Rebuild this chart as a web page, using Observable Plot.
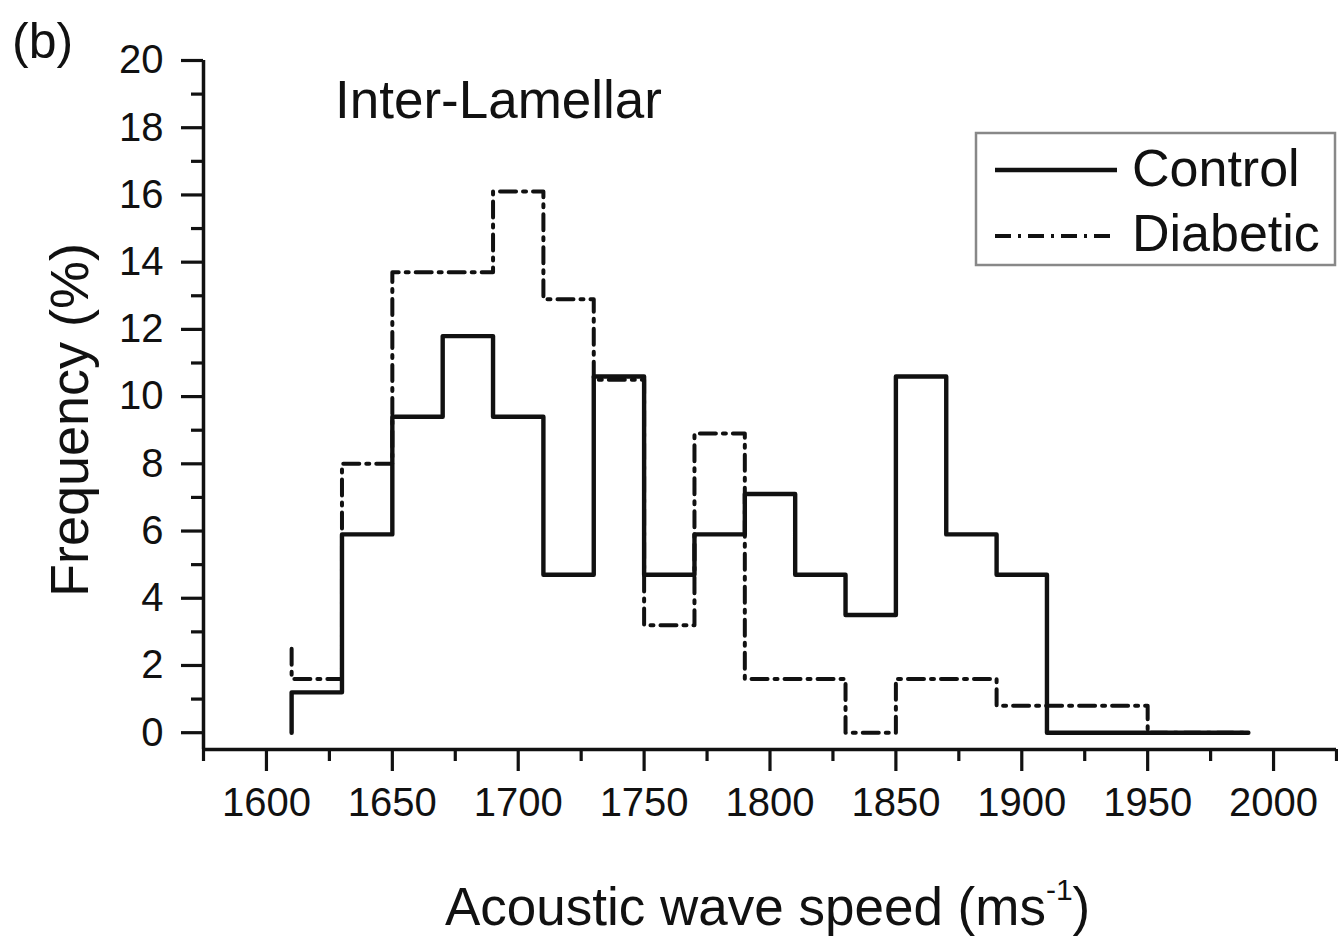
<!DOCTYPE html>
<html><head><meta charset="utf-8">
<script src="https://cdn.jsdelivr.net/npm/d3@7"></script>
<script src="https://cdn.jsdelivr.net/npm/@observablehq/plot@0.6"></script>
<style>body{margin:0;background:#fff} svg{display:block}</style>
</head><body><div id="chart"></div>
<script>
// ---- data ----
const binStarts = [1610,1630,1650,1670,1690,1710,1730,1750,1770,1790,1810,1830,1850,1870,1890,1910,1930,1950,1970];
const binEnd = 1990;
const control  = [1.2,5.9,9.4,11.8,9.4,4.7,10.6,4.7,5.9,7.1,4.7,3.5,10.6,5.9,4.7,0,0,0,0];
const diabetic = [1.6,8.0,13.7,13.7,16.1,12.9,10.5,3.2,8.9,1.6,1.6,0,1.6,1.6,0.8,0.8,0.8,0,0];
const controlStart = 0;
const diabeticStart = 2.5;
const xDomain = [1575, 2025];
const yDomain = [-0.5, 20];
const xMajor = [1600,1650,1700,1750,1800,1850,1900,1950,2000];
const xMinor = [1575,1625,1675,1725,1775,1825,1875,1925,1975,2025];
const yMajor = [0,2,4,6,8,10,12,14,16,18,20];
const yMinor = [1,3,5,7,9,11,13,15,17,19];
const seriesNames = ["Control","Diabetic"];

function steps(name, start, vals) {
  const rows = [{x: binStarts[0], y: start, s: name}];
  vals.forEach((v, i) => rows.push({x: binStarts[i], y: v, s: name}));
  rows.push({x: binEnd, y: vals[vals.length - 1], s: name});
  return rows;
}
const ctrlRows = steps(seriesNames[0], controlStart, control);
const diabRows = steps(seriesNames[1], diabeticStart, diabetic);

const ink = "#111";
const dash = "16,7,3,7";
const font = "'Liberation Sans', Arial, Helvetica, sans-serif";
const tw = 3.2;

const svg = Plot.plot({
  width: 1338,
  height: 937,
  marginLeft: 203,
  marginRight: 2,
  marginTop: 60,
  marginBottom: 188,
  style: {fontFamily: font, color: ink, background: "#fff"},
  x: {domain: xDomain},
  y: {domain: yDomain},
  marks: [
    Plot.line(diabRows, {x: "x", y: "y", curve: "step-after", stroke: ink, strokeWidth: 4, strokeDasharray: dash}),
    Plot.line(ctrlRows, {x: "x", y: "y", curve: "step-after", stroke: ink, strokeWidth: 4.4}),
    // tick labels
    Plot.axisY(yMajor, {tickSize: 0, tickPadding: 40, fontSize: 40, label: null, tickFormat: d => String(d)}),
    Plot.axisX(xMajor, {tickSize: 0, tickPadding: 38, fontSize: 40, label: null, tickFormat: d => String(d)}),
    // tick marks (outward)
    Plot.ruleY(yMajor, {y: d => d, x1: xDomain[0], x2: xDomain[0], insetLeft: -22, stroke: ink, strokeWidth: tw}),
    Plot.ruleY(yMinor, {y: d => d, x1: xDomain[0], x2: xDomain[0], insetLeft: -12, stroke: ink, strokeWidth: tw}),
    Plot.ruleX(xMajor, {x: d => d, y1: yDomain[0], y2: yDomain[0], insetBottom: -22, stroke: ink, strokeWidth: tw}),
    Plot.ruleX(xMinor, {x: d => d, y1: yDomain[0], y2: yDomain[0], insetBottom: -12, stroke: ink, strokeWidth: tw}),
    // axis lines
    Plot.ruleX([xDomain[0]], {stroke: ink, strokeWidth: 3.5}),
    Plot.ruleY([yDomain[0]], {stroke: ink, strokeWidth: 3.5})
  ]
});
document.getElementById("chart").appendChild(svg);

const s = d3.select(svg);
const g = s.append("g").attr("fill", ink).attr("text-anchor", "start").style("font-family", font);
g.append("text").attr("x", 12).attr("y", 58).attr("font-size", 50).text("(b)");
g.append("text").attr("x", 335).attr("y", 118).attr("font-size", 53).text("Inter-Lamellar");
g.append("text").attr("transform", "translate(88,420) rotate(-90)").attr("text-anchor", "middle")
  .attr("font-size", 54).text("Frequency (%)");
const xl = g.append("text").attr("x", 445).attr("y", 925).attr("font-size", 53);
xl.append("tspan").text("Acoustic wave speed (ms");
xl.append("tspan").attr("font-size", 30).attr("dy", -25).text("-1");
xl.append("tspan").attr("dy", 25).text(")");

// legend
const lg = s.append("g").attr("text-anchor", "start").style("font-family", font);
lg.append("rect").attr("x", 976).attr("y", 133).attr("width", 359).attr("height", 132)
  .attr("fill", "#fff").attr("stroke", "#888").attr("stroke-width", 2.5);
lg.append("line").attr("x1", 995).attr("x2", 1117).attr("y1", 170).attr("y2", 170)
  .attr("stroke", ink).attr("stroke-width", 4.4);
lg.append("line").attr("x1", 995).attr("x2", 1117).attr("y1", 236).attr("y2", 236)
  .attr("stroke", ink).attr("stroke-width", 4).attr("stroke-dasharray", dash);
lg.append("text").attr("x", 1132).attr("y", 186).attr("font-size", 52).attr("fill", ink).text(seriesNames[0]);
lg.append("text").attr("x", 1132).attr("y", 251).attr("font-size", 52).attr("fill", ink).text(seriesNames[1]);
</script>
</body></html>
